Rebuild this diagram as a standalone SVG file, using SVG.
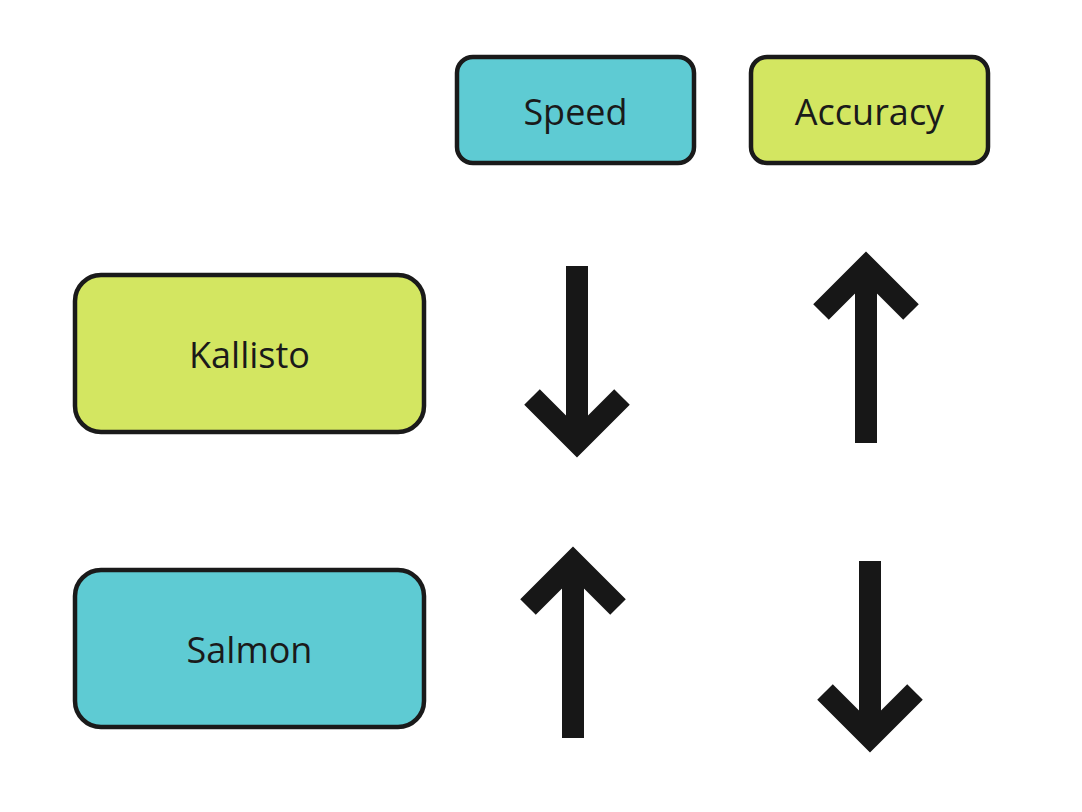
<svg xmlns="http://www.w3.org/2000/svg" width="1082" height="812" viewBox="0 0 1082 812">
<style>
.box{stroke:#1a1a1a;stroke-width:4.5}
.cyan{fill:#5ecbd3}
.lime{fill:#d3e661}
.lbl{font-family:"Open Sans","Noto Sans",sans-serif;font-size:36px;fill:#1a1a1a;text-anchor:middle;dominant-baseline:central}
.arr{fill:none;stroke:#171717;stroke-width:22;stroke-linejoin:miter;stroke-miterlimit:4;stroke-linecap:butt}
</style>
<rect width="1082" height="812" fill="#ffffff"/>
<g id="speed"><rect class="box cyan" x="457" y="57" width="237" height="106" rx="16"/><text class="lbl" x="575.5" y="111">Speed</text></g>
<g id="accuracy"><rect class="box lime" x="751" y="57" width="237" height="106" rx="16"/><text class="lbl" x="869.5" y="111">Accuracy</text></g>
<g id="kallisto"><rect class="box lime" x="75" y="275" width="349" height="157" rx="26"/><text class="lbl" x="249.5" y="354">Kallisto</text></g>
<g id="salmon"><rect class="box cyan" x="75" y="570" width="349" height="157" rx="26"/><text class="lbl" x="249.5" y="649">Salmon</text></g>
<g id="connectors">
<path class="arr" d="M577 266V440M532 397L577 442L622 397"/>
<path class="arr" d="M866 443V269M821 312L866 267L911 312"/>
<path class="arr" d="M573 738V564M528 607L573 562L618 607"/>
<path class="arr" d="M870 561V735M825 692L870 737L915 692"/>
</g>
</svg>
